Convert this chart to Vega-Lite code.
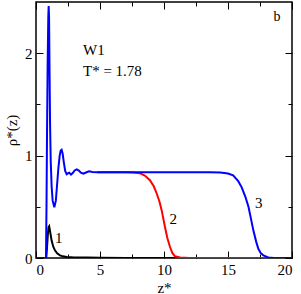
{
  "$schema": "https://vega.github.io/schema/vega-lite/v6.json",
  "width": 256,
  "height": 256,
  "autosize": "none",
  "padding": {"left": 36, "top": 2, "right": 9, "bottom": 36},
  "background": "white",
  "config": {
    "view": {"stroke": "black", "strokeWidth": 1.5},
    "font": "Liberation Serif",
    "text": {"font": "Liberation Serif"},
    "axis": {"grid": false, "domain": false, "tickColor": "black", "labelColor": "black", "titleColor": "black", "labelFont": "Liberation Serif", "titleFont": "Liberation Serif", "labelFontSize": 15, "titleFontSize": 15, "titleFontWeight": "normal"}
  },
  "datasets": {
    "curves": [
      {"series": "1", "z": 0, "rho": 0},
      {"series": "1", "z": 0.8, "rho": 0},
      {"series": "1", "z": 0.86, "rho": 0.1},
      {"series": "1", "z": 0.92, "rho": 0.22},
      {"series": "1", "z": 0.98, "rho": 0.3},
      {"series": "1", "z": 1.03, "rho": 0.31},
      {"series": "1", "z": 1.1, "rho": 0.26},
      {"series": "1", "z": 1.22, "rho": 0.17},
      {"series": "1", "z": 1.35, "rho": 0.11},
      {"series": "1", "z": 1.48, "rho": 0.075},
      {"series": "1", "z": 1.65, "rho": 0.045},
      {"series": "1", "z": 1.875, "rho": 0.026},
      {"series": "1", "z": 2.1, "rho": 0.016},
      {"series": "1", "z": 2.4, "rho": 0.01},
      {"series": "1", "z": 3, "rho": 0.006},
      {"series": "1", "z": 4, "rho": 0.004},
      {"series": "1", "z": 5, "rho": 0.002},
      {"series": "1", "z": 7, "rho": 0.001},
      {"series": "1", "z": 20, "rho": 0},
      {"series": "2", "z": 4.8, "rho": 0.838},
      {"series": "2", "z": 6, "rho": 0.838},
      {"series": "2", "z": 7, "rho": 0.838},
      {"series": "2", "z": 7.6, "rho": 0.835},
      {"series": "2", "z": 8.1, "rho": 0.828},
      {"series": "2", "z": 8.5, "rho": 0.805},
      {"series": "2", "z": 8.9, "rho": 0.76},
      {"series": "2", "z": 9.2, "rho": 0.7},
      {"series": "2", "z": 9.43, "rho": 0.63},
      {"series": "2", "z": 9.65, "rho": 0.55},
      {"series": "2", "z": 9.82, "rho": 0.465},
      {"series": "2", "z": 10.08, "rho": 0.3},
      {"series": "2", "z": 10.25, "rho": 0.2},
      {"series": "2", "z": 10.47, "rho": 0.107},
      {"series": "2", "z": 10.65, "rho": 0.05},
      {"series": "2", "z": 10.86, "rho": 0.017},
      {"series": "2", "z": 11.25, "rho": 0.004},
      {"series": "2", "z": 12, "rho": 0.001},
      {"series": "2", "z": 20, "rho": 0},
      {"series": "3", "z": 0, "rho": 0},
      {"series": "3", "z": 0.78, "rho": 0},
      {"series": "3", "z": 0.82, "rho": 0.5},
      {"series": "3", "z": 0.86, "rho": 1.2},
      {"series": "3", "z": 0.91, "rho": 1.9},
      {"series": "3", "z": 0.96, "rho": 2.35},
      {"series": "3", "z": 0.99, "rho": 2.46},
      {"series": "3", "z": 1.02, "rho": 2.35},
      {"series": "3", "z": 1.06, "rho": 1.8},
      {"series": "3", "z": 1.1, "rho": 1.3},
      {"series": "3", "z": 1.15, "rho": 0.95},
      {"series": "3", "z": 1.22, "rho": 0.7},
      {"series": "3", "z": 1.3, "rho": 0.56},
      {"series": "3", "z": 1.43, "rho": 0.495},
      {"series": "3", "z": 1.55, "rho": 0.56},
      {"series": "3", "z": 1.65, "rho": 0.72},
      {"series": "3", "z": 1.75, "rho": 0.88},
      {"series": "3", "z": 1.85, "rho": 1.0},
      {"series": "3", "z": 1.93, "rho": 1.05},
      {"series": "3", "z": 2.0, "rho": 1.057},
      {"series": "3", "z": 2.08, "rho": 1.02},
      {"series": "3", "z": 2.18, "rho": 0.93},
      {"series": "3", "z": 2.28, "rho": 0.85},
      {"series": "3", "z": 2.4, "rho": 0.817},
      {"series": "3", "z": 2.52, "rho": 0.828},
      {"series": "3", "z": 2.6, "rho": 0.833},
      {"series": "3", "z": 2.73, "rho": 0.814},
      {"series": "3", "z": 2.87, "rho": 0.83},
      {"series": "3", "z": 3.02, "rho": 0.855},
      {"series": "3", "z": 3.18, "rho": 0.865},
      {"series": "3", "z": 3.35, "rho": 0.853},
      {"series": "3", "z": 3.5, "rho": 0.833},
      {"series": "3", "z": 3.7, "rho": 0.823},
      {"series": "3", "z": 3.9, "rho": 0.835},
      {"series": "3", "z": 4.15, "rho": 0.846},
      {"series": "3", "z": 4.4, "rho": 0.841},
      {"series": "3", "z": 4.8, "rho": 0.838},
      {"series": "3", "z": 8, "rho": 0.838},
      {"series": "3", "z": 12, "rho": 0.838},
      {"series": "3", "z": 13.5, "rho": 0.837},
      {"series": "3", "z": 14.4, "rho": 0.835},
      {"series": "3", "z": 15, "rho": 0.825},
      {"series": "3", "z": 15.4, "rho": 0.807},
      {"series": "3", "z": 15.8, "rho": 0.75},
      {"series": "3", "z": 16.07, "rho": 0.69},
      {"series": "3", "z": 16.35, "rho": 0.6},
      {"series": "3", "z": 16.6, "rho": 0.5},
      {"series": "3", "z": 16.8, "rho": 0.38},
      {"series": "3", "z": 16.98, "rho": 0.27},
      {"series": "3", "z": 17.2, "rho": 0.16},
      {"series": "3", "z": 17.37, "rho": 0.09},
      {"series": "3", "z": 17.55, "rho": 0.05},
      {"series": "3", "z": 17.76, "rho": 0.026},
      {"series": "3", "z": 18.15, "rho": 0.006},
      {"series": "3", "z": 18.6, "rho": 0.001},
      {"series": "3", "z": 20, "rho": 0}
    ],
    "centered": [
      {"label": "1", "z": 1.78, "rho": 0.195},
      {"label": "2", "z": 10.73, "rho": 0.38},
      {"label": "3", "z": 17.4, "rho": 0.537}
    ],
    "corner": [
      {"label": "b", "z": 18.83, "rho": 2.353}
    ],
    "notes": [
      {"label": "W1", "z": 3.67, "rho": 2.03},
      {"label": "T* = 1.78", "z": 3.67, "rho": 1.826}
    ]
  },
  "layer": [
    {
      "data": {"name": "curves"},
      "transform": [{"filter": "datum.series === '1'"}],
      "mark": {"type": "line", "strokeWidth": 2, "clip": true, "color": "#000000"},
      "encoding": {
        "x": {"field": "z", "type": "quantitative", "scale": {"domain": [0, 20], "nice": false, "zero": false},
          "axis": {"orient": "bottom", "values": [0, 2.5, 5, 7.5, 10, 12.5, 15, 17.5, 20], "tickSize": {"condition": {"test": "datum.value % 5 === 0", "value": -7}, "value": -4}, "labelExpr": "datum.value % 5 === 0 ? format(datum.value, 'd') : ''", "labelPadding": 11, "title": "z*", "titlePadding": 3}},
        "y": {"field": "rho", "type": "quantitative", "scale": {"domain": [0, 2.5], "nice": false, "zero": false},
          "axis": {"orient": "left", "values": [0, 0.5, 1, 1.5, 2], "tickSize": {"condition": {"test": "datum.value % 1 === 0", "value": -7}, "value": -4}, "labelExpr": "datum.value % 1 === 0 ? format(datum.value, 'd') : ''", "labelPadding": 11, "title": "ρ*(z)", "titlePadding": 5}}
      }
    },
    {
      "data": {"name": "curves"},
      "transform": [{"filter": "datum.series === '2'"}],
      "mark": {"type": "line", "strokeWidth": 2, "clip": true, "color": "#ff0000"},
      "encoding": {
        "x": {"field": "z", "type": "quantitative", "axis": null},
        "y": {"field": "rho", "type": "quantitative", "axis": null}
      }
    },
    {
      "data": {"name": "curves"},
      "transform": [{"filter": "datum.series === '3'"}],
      "mark": {"type": "line", "strokeWidth": 2, "clip": true, "color": "#0000ff"},
      "encoding": {
        "x": {"field": "z", "type": "quantitative", "axis": null},
        "y": {"field": "rho", "type": "quantitative", "axis": null}
      }
    },
    {
      "data": {"name": "centered"},
      "mark": {"type": "text", "align": "center", "baseline": "middle", "fontSize": 15, "font": "Liberation Serif", "color": "black"},
      "encoding": {
        "x": {"field": "z", "type": "quantitative", "axis": {"orient": "top", "values": [0, 2.5, 5, 7.5, 10, 12.5, 15, 17.5, 20], "tickSize": {"condition": {"test": "datum.value % 5 === 0", "value": -7}, "value": -4}, "labels": false, "title": null}},
        "y": {"field": "rho", "type": "quantitative", "axis": {"orient": "right", "values": [0, 0.5, 1, 1.5, 2], "tickSize": {"condition": {"test": "datum.value % 1 === 0", "value": -7}, "value": -4}, "labels": false, "title": null}},
        "text": {"field": "label"}
      }
    },
    {
      "data": {"name": "corner"},
      "mark": {"type": "text", "align": "center", "baseline": "middle", "fontSize": 14, "font": "Liberation Serif", "color": "black"},
      "encoding": {
        "x": {"field": "z", "type": "quantitative", "axis": null},
        "y": {"field": "rho", "type": "quantitative", "axis": null},
        "text": {"field": "label"}
      }
    },
    {
      "data": {"name": "notes"},
      "mark": {"type": "text", "align": "left", "baseline": "middle", "fontSize": 15, "font": "Liberation Serif", "color": "black"},
      "encoding": {
        "x": {"field": "z", "type": "quantitative", "axis": null},
        "y": {"field": "rho", "type": "quantitative", "axis": null},
        "text": {"field": "label"}
      }
    }
  ],
  "resolve": {"axis": {"x": "independent", "y": "independent"}}
}
